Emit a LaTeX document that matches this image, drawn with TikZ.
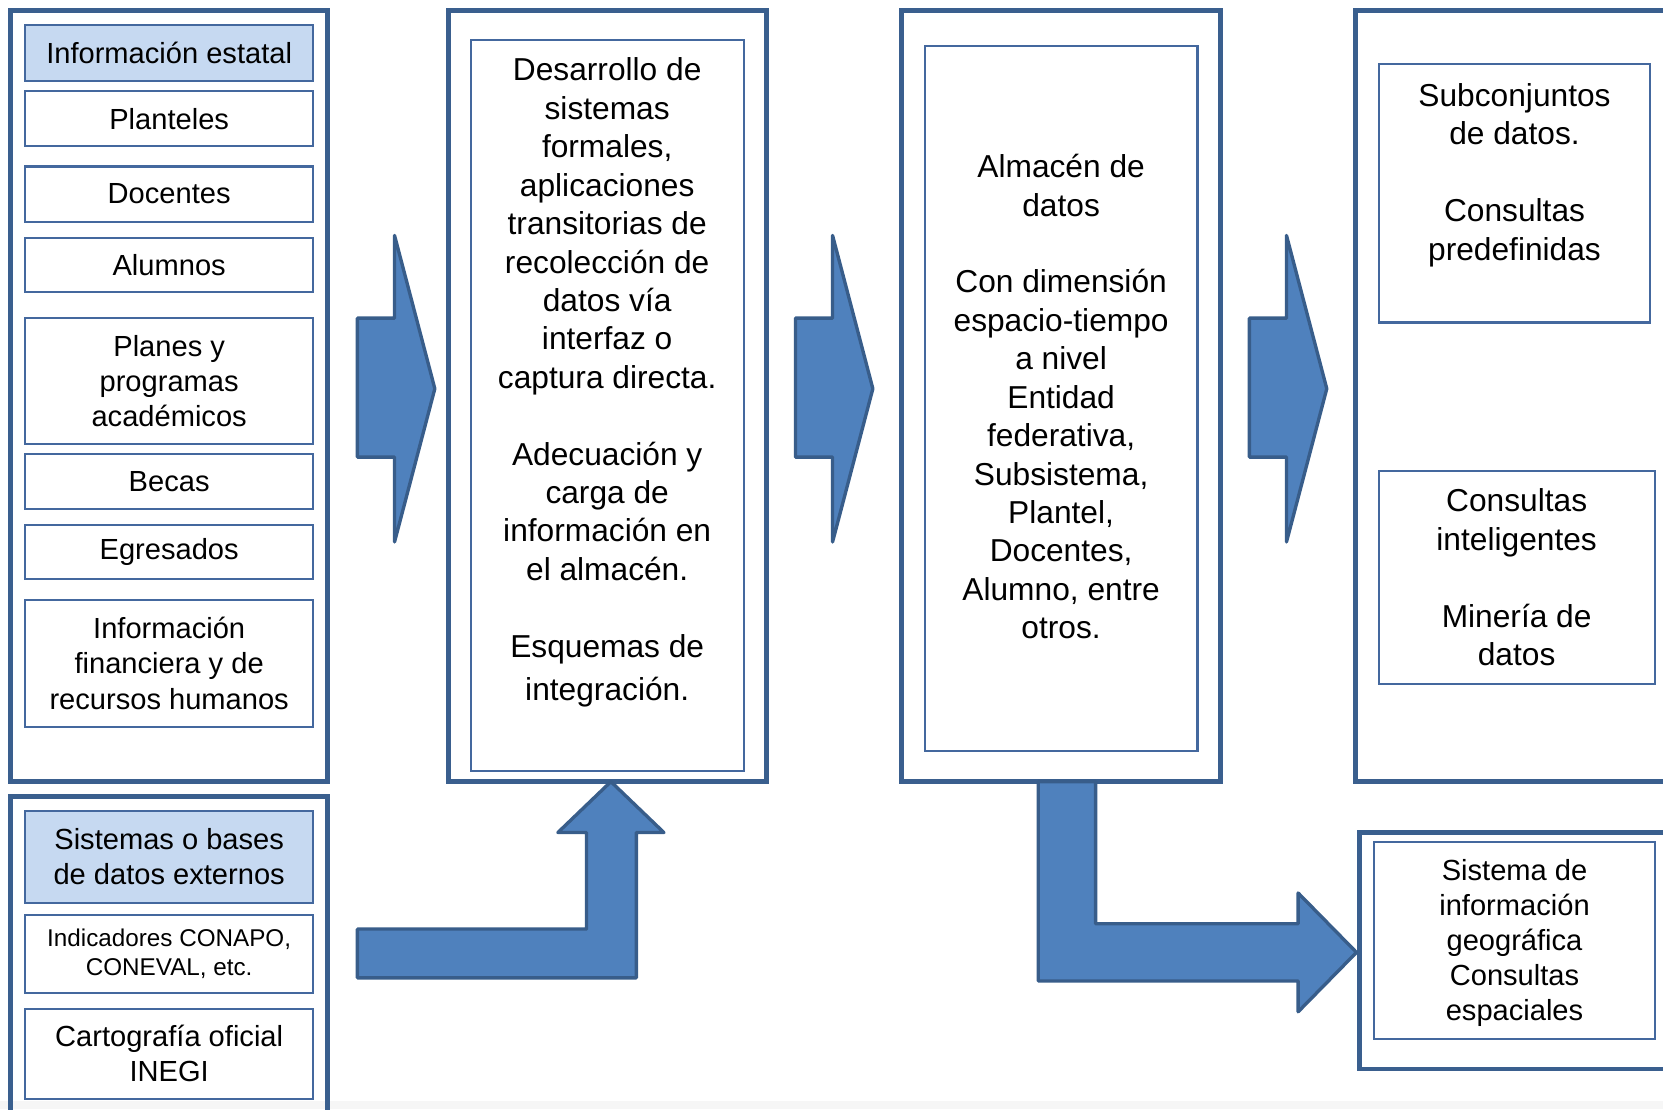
\documentclass[tikz,border=0pt]{standalone}
\usepackage{fontspec}
\setmainfont{Liberation Sans}
\begin{document}
\begin{tikzpicture}[x=0.01cm,y=-0.01cm,
  outbox/.style={draw=borde, line width=1.3pt},
  inbox/.style={draw=marco, line width=0.55pt, fill=white, inner sep=0pt, align=center, font=\fontsize{7.8}{9.4}\selectfont, minimum width=2.71cm},
  cabeza/.style={inbox, fill=celeste},
  texto/.style={inner sep=0pt, align=center, font=\fontsize{8.5}{10.3}\selectfont},
  flecha/.style={fill=azul, draw=azulosc, line width=0.9pt, line join=round}]
\definecolor{borde}{RGB}{58,95,142}
\definecolor{marco}{RGB}{68,104,158}
\definecolor{celeste}{RGB}{198,217,241}
\definecolor{azul}{RGB}{79,129,189}
\definecolor{azulosc}{RGB}{56,93,138}
\useasboundingbox (0,0) rectangle (1568,1046);
\fill[gray!7] (0,1038) rectangle (1568,1046);
\draw[outbox] (10,10) rectangle (309,737);
\node[cabeza, minimum height=0.52cm] (estatal) at (159.5,50) {Información estatal};
\node[inbox, minimum height=0.52cm] (planteles) at (159.5,112) {Planteles};
\node[inbox, minimum height=0.52cm] (docentes) at (159.5,183) {Docentes};
\node[inbox, minimum height=0.51cm] (alumnos) at (159.5,249.5) {Alumnos};
\node[inbox, minimum height=1.19cm] (planes) at (159.5,359.5) {Planes y\\programas\\académicos};
\node[inbox, minimum height=0.52cm] (becas) at (159.5,454) {Becas};
\node[inbox, minimum height=0.51cm] (egresados) at (159.5,520.5) {Egresados};
\node[inbox, minimum height=1.19cm] (finanzas) at (159.5,625.5) {Información\\financiera y de\\recursos humanos};
\draw[outbox] (10,751) rectangle (309,1070);
\node[cabeza, minimum height=0.86cm] (externos) at (159.5,808) {Sistemas o bases\\de datos externos};
\node[inbox, minimum height=0.73cm, font=\fontsize{6.5}{7.9}\selectfont] (conapo) at (159.5,899.5) {Indicadores CONAPO,\\CONEVAL, etc.};
\node[inbox, minimum height=0.85cm] (inegi) at (159.5,993.5) {Cartografía oficial\\INEGI};
\draw[outbox] (423,10) rectangle (723,737);
\node[inbox, minimum width=2.57cm, minimum height=6.89cm] (desarrollo) at (572.5,382.5) {};
\node[texto, anchor=north] (desarrollotxt) at (572.5,54) {Desarrollo de\\sistemas\\formales,\\aplicaciones\\transitorias de\\recolección de\\datos vía\\interfaz o\\captura directa.\\[10.3pt]Adecuación y\\carga de\\información en\\el almacén.\\[10.3pt]Esquemas de\\[1.2pt]integración.};
\draw[outbox] (850,10) rectangle (1151,737);
\node[inbox, minimum width=2.57cm, minimum height=6.64cm] (almacen) at (1000.5,376) {};
\node[texto] (almacentxt) at (1000.5,374) {Almacén de\\datos\\[10.3pt]Con dimensión\\espacio-tiempo\\a nivel\\Entidad\\federativa,\\Subsistema,\\Plantel,\\Docentes,\\Alumno, entre\\otros.};
\draw[outbox] (1278,10) rectangle (1620,737);
\node[inbox, minimum width=2.56cm, minimum height=2.44cm] (subconjuntos) at (1428,182) {};
\node[texto, anchor=north] (subconjuntostxt) at (1428,78) {Subconjuntos\\de datos.\\[10.3pt]Consultas\\predefinidas};
\node[inbox, texto, minimum width=2.60cm, minimum height=2.01cm] (inteligentes) at (1430,544.5) {Consultas\\inteligentes\\[10.3pt]Minería de\\datos};
\draw[outbox] (1282,785) rectangle (1620,1008);
\node[inbox, minimum width=2.64cm, minimum height=1.86cm] (sig) at (1428,887) {};
\node[inbox, draw=none, fill=none] (sigtxt) at (1428,889) {Sistema de\\información\\geográfica\\Consultas\\espaciales};
\foreach \x in {337,750,1178} \draw[flecha] (\x,300) -- ++(35,0) -- ++(0,-78) -- ++(38,144.5) -- ++(-38,144.5) -- ++(0,-80) -- ++(-35,0) -- cycle;
\draw[flecha] (337,876) -- (553,876) -- (553,785) -- (526,785) -- (576,737) -- (626,785) -- (600,785) -- (600,922) -- (337,922) -- cycle;
\draw[flecha] (979,737) -- (1033,737) -- (1033,871) -- (1224,871) -- (1224,842) -- (1279,898) -- (1224,954) -- (1224,925) -- (979,925) -- cycle;
\end{tikzpicture}
\end{document}
